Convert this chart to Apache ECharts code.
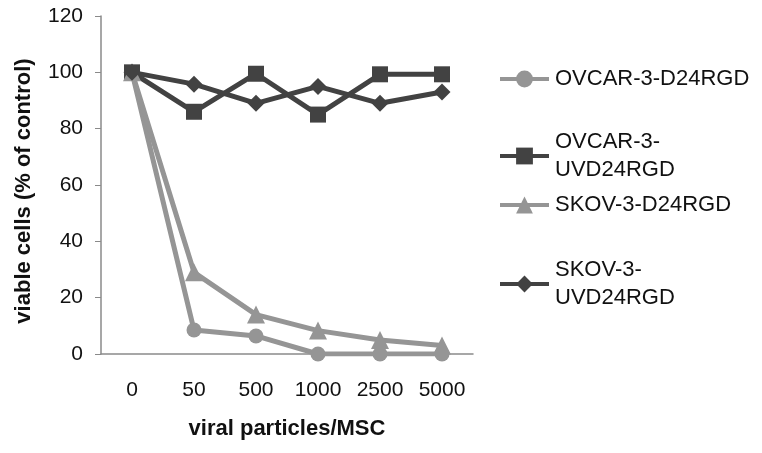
<!DOCTYPE html>
<html>
<head>
<meta charset="utf-8">
<script src="https://cdn.jsdelivr.net/npm/echarts@6/dist/echarts.min.js"></script>
<style>html,body{margin:0;padding:0;background:#fff}#c{width:762px;height:453px}</style>
</head>
<body>
<div id="c"></div>
<script>
var categories = ['0', '50', '500', '1000', '2500', '5000'];
var ovcarD = [100, 8.5, 6.4, 0, 0, 0];
var ovcarUVD = [100, 86, 99.5, 85, 99.3, 99.3];
var skovD = [100, 29, 14, 8.3, 5, 3];
var skovUVD = [100, 95.8, 89, 95, 89, 93];
var yTicks = { min: 0, max: 120, interval: 20 };

var light = '#959595', dark = '#424242';
var font = 'Liberation Sans, Arial, sans-serif';

function mkSeries(name, data, color, symbol, size) {
  return {
    name: name, type: 'line', data: data, symbol: symbol, symbolSize: size,
    lineStyle: { color: color, width: 5 }, itemStyle: { color: color },
    emphasis: { disabled: true }, animation: false
  };
}
function mkLegend(name, top, wrapped) {
  return {
    data: [name], left: 493, top: top, orient: 'vertical',
    itemWidth: 49, itemHeight: 21, itemGap: 0,
    lineStyle: { width: 4 },
    formatter: wrapped ? function (n) { return n.replace(/-(UVD)/, '-\n$1'); } : undefined,
    textStyle: { fontFamily: font, fontSize: 22, color: '#111', lineHeight: 28,
      padding: wrapped ? [28, 0, 0, 1] : [0, 0, 0, 1] }
  };
}
var chart = echarts.init(document.getElementById('c'));
chart.setOption({
  animation: false,
  grid: { left: 101, right: 289, top: 16, bottom: 99, containLabel: false },
  xAxis: {
    type: 'category', data: categories, boundaryGap: true,
    name: 'viral particles/MSC', nameLocation: 'middle', nameGap: 64,
    nameTextStyle: { fontFamily: font, fontSize: 22, fontWeight: 'bold', color: '#111' },
    axisLine: { lineStyle: { color: '#8a8a8a', width: 1.5 } },
    axisTick: { length: 7, lineStyle: { color: '#8a8a8a' } },
    axisLabel: { fontFamily: font, fontSize: 21, color: '#111', margin: 26 }
  },
  yAxis: {
    type: 'value', min: yTicks.min, max: yTicks.max, interval: yTicks.interval,
    name: 'viable cells (% of control)', nameLocation: 'middle', nameGap: 66, nameRotate: 90,
    nameTextStyle: { fontFamily: font, fontSize: 22, fontWeight: 'bold', color: '#111', padding: [0, 12, 0, 0] },
    splitLine: { show: false },
    axisLine: { show: true, lineStyle: { color: '#8a8a8a', width: 1.5 } },
    axisTick: { show: true, length: 6, lineStyle: { color: '#8a8a8a' } },
    axisLabel: { fontFamily: font, fontSize: 21, color: '#111', margin: 18 }
  },
  legend: [
    mkLegend('OVCAR-3-D24RGD', 60, false),
    mkLegend('OVCAR-3-UVD24RGD', 109, true),
    mkLegend('SKOV-3-D24RGD', 186, false),
    mkLegend('SKOV-3-UVD24RGD', 237, true)
  ],
  series: [
    mkSeries('OVCAR-3-D24RGD', ovcarD, light, 'circle', 15),
    mkSeries('OVCAR-3-UVD24RGD', ovcarUVD, dark, 'rect', 16),
    mkSeries('SKOV-3-D24RGD', skovD, light, 'triangle', 18),
    mkSeries('SKOV-3-UVD24RGD', skovUVD, dark, 'diamond', 17)
  ]
});
</script>
</body>
</html>
